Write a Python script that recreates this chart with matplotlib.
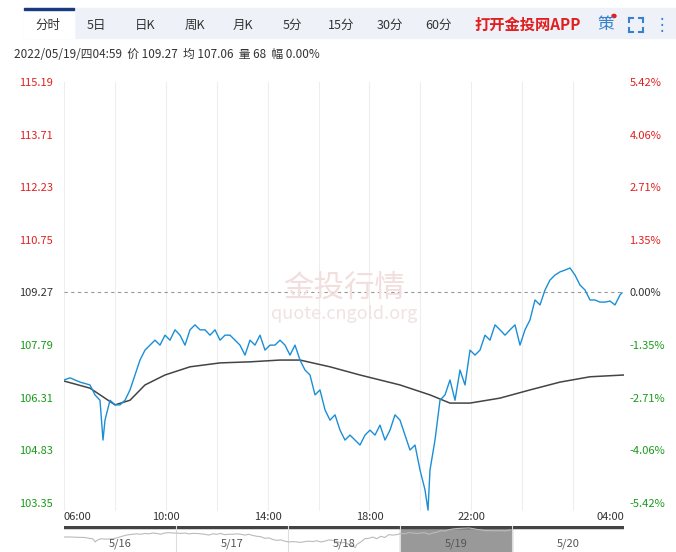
import matplotlib
matplotlib.use("Agg")
import matplotlib.pyplot as plt
from matplotlib.patches import Rectangle
from matplotlib.lines import Line2D

plt.rcParams['font.family'] = ['Noto Sans CJK SC', 'DejaVu Sans']

t_px = [64,70,80,90,95,100,103,105,110,115,120,125,130,135,140,145,150,155,160,165,170,175,180,185,190,195,200,205,210,215,220,225,230,235,240,245,250,255,260,265,270,275,280,285,290,295,300,305,310,315,320,325,330,335,340,345,350,355,360,365,370,375,380,385,390,395,400,405,410,415,420,425,428,430,435,440,445,450,455,460,465,470,475,480,485,490,495,500,505,510,515,520,525,530,535,540,545,550,555,560,565,570,575,580,585,590,595,600,605,610,615,620,622]
price = [106.81,106.87,106.75,106.67,106.39,106.24,105.12,105.68,106.24,106.11,106.11,106.24,106.53,106.95,107.37,107.65,107.79,107.93,107.79,108.07,107.93,108.22,108.07,107.79,108.22,108.36,108.22,108.22,108.07,108.22,107.93,108.07,108.07,107.93,107.79,107.51,107.93,107.79,108.07,107.65,107.79,107.79,107.93,107.79,107.51,107.79,107.37,107.09,106.95,106.39,106.53,105.97,105.68,105.83,105.40,105.12,105.26,105.12,104.98,105.26,105.40,105.26,105.54,105.12,105.40,105.83,105.68,105.26,104.84,104.98,104.28,103.72,103.15,104.28,105.12,106.24,106.39,106.81,106.24,107.09,106.67,107.65,107.51,107.65,108.07,107.93,108.36,108.22,108.07,108.22,108.36,107.79,108.22,108.50,109.06,108.92,109.34,109.62,109.76,109.85,109.90,109.96,109.76,109.48,109.34,109.06,109.06,109.00,109.00,109.03,108.92,109.20,109.26]
avg_px = [64,90,115,130,145,165,190,220,250,280,300,330,360,400,430,450,470,500,530,560,590,624]
avg = [106.78,106.58,106.11,106.24,106.67,106.95,107.18,107.29,107.32,107.37,107.37,107.18,106.95,106.67,106.39,106.16,106.16,106.30,106.53,106.75,106.90,106.95]

t = [(p-64)*1320/560 for p in t_px]
ta = [(p-64)*1320/560 for p in avg_px]

left_ticks = [115.19,113.71,112.23,110.75,109.27,107.79,106.31,104.83,103.35]
right_labels = ['5.42%','4.06%','2.71%','1.35%','0.00%','-1.35%','-2.71%','-4.06%','-5.42%']
xt_labels = ['06:00','10:00','14:00','18:00','22:00','04:00']
xt_pos = [0,240,480,720,960,1320]
nav_days = ['5/16','5/17','5/18','5/19','5/20']

W,H = 676,552
fig = plt.figure(figsize=(6.76,5.52), dpi=100)
ax = fig.add_axes([64/W, 1-511/H, 560/W, 429/H])
ylo = 103.35 - 8*(115.19-103.35)/421
ax.set_xlim(0,1320); ax.set_ylim(ylo,115.19)
for v in range(0,1321,120):
    ax.axvline(v, color='#eeeeee', lw=0.8, zorder=0)
ax.axhline(109.27, color='#999999', lw=0.8, ls=(0,(3,3)))
ax.text(0.5,0.52,'金投行情', transform=ax.transAxes, fontsize=22, color='#f3dede', ha='center', va='center')
ax.text(0.5,0.46,'quote.cngold.org', transform=ax.transAxes, fontsize=13, color='#f0e2e2', ha='center', va='center')
ax.plot(ta, avg, color='#444444', lw=1.1)
ax.plot(t, price, color='#1a8fd6', lw=1.0)
for s in ax.spines.values(): s.set_visible(False)
ax.set_yticks(left_ticks)
ax.set_yticklabels([f'{v:.2f}' for v in left_ticks], fontsize=8)
cols = ['#e02020']*4+['#333333']+['#1a9a1a']*4
for lab,c in zip(ax.get_yticklabels(), cols): lab.set_color(c)
ax.tick_params(axis='y', length=0, pad=8)
ax2 = ax.twinx(); ax2.set_ylim(ax.get_ylim()); ax2.set_yticks(left_ticks)
ax2.set_yticklabels(right_labels, fontsize=8)
for lab,c in zip(ax2.get_yticklabels(), cols): lab.set_color(c)
ax2.tick_params(axis='y', length=0, pad=4)
for s in ax2.spines.values(): s.set_visible(False)
ax.set_xticks(xt_pos); ax.set_xticklabels(xt_labels, fontsize=8, color='#333333')
ax.tick_params(axis='x', length=0, pad=1)
for lab,ha in zip(ax.get_xticklabels(), ['left','center','center','center','center','right']):
    lab.set_ha(ha)

nav = fig.add_axes([64/W, 0, 560/W, 26/H])
nav.set_xlim(0,5); nav.set_ylim(0,1)
nav.add_patch(Rectangle((3.0,0),1.0,0.95,color='#999999'))
nav.axhline(0.97, color='#444444', lw=2.5)
for i in range(1,5): nav.axvline(i, color='#dddddd', lw=0.8)
for i,d in enumerate(nav_days): nav.text(i+0.5,0.3,d,ha='center',va='center',fontsize=8,color='#555555')
nav.plot([x/1320*4 for x in t], [0.15+(p-103)/9 for p in price], color='#bbbbbb', lw=0.8)
nav.axis('off')

fig.patches.append(Rectangle((24/W,1-38/H),652/W,30/H,transform=fig.transFigure,color='#eef2f8',zorder=0))
fig.patches.append(Rectangle((24/W,1-38/H),50/W,30/H,transform=fig.transFigure,color='white',zorder=0))
fig.patches.append(Rectangle((24/W,1-10/H),50/W,2/H,transform=fig.transFigure,color='#1a3a80',zorder=0))
tabs = [('分时',48),('5日',96),('日K',145),('周K',195),('月K',243),('5分',292),('15分',341),('30分',390),('60分',438)]
for s,x in tabs:
    fig.text(x/W,1-25/H,s,ha='center',va='center',fontsize=9,color='#333333')
fig.text(528/W,1-25/H,'打开金投网APP',ha='center',va='center',fontsize=11,color='#e02020',weight='bold')
fig.text(606/W,1-25/H,'策',ha='center',va='center',fontsize=12,color='#3a80d0')
fig.patches.append(matplotlib.patches.Circle((614/W,1-16/H),2/W,transform=fig.transFigure,color='#e02020'))
cx,cy,s,a = 636,25,7,4
for dx in (-1,1):
    for dy in (-1,1):
        x0,y0 = cx+dx*s, cy+dy*s
        fig.lines.append(Line2D([x0/W,(x0-dx*a)/W],[1-y0/H,1-y0/H],transform=fig.transFigure,color='#3a80d0',lw=1.5))
        fig.lines.append(Line2D([x0/W,x0/W],[1-y0/H,1-(y0-dy*a)/H],transform=fig.transFigure,color='#3a80d0',lw=1.5))
fig.text(662/W,1-25/H,'⋮',ha='center',va='center',fontsize=12,color='#3a80d0',family='DejaVu Sans')
fig.text(14/W,1-55/H,'2022/05/19/四04:59  价 109.27  均 107.06  量 68  幅 0.00%',ha='left',va='center',fontsize=8.5,color='#333333')
fig.savefig('out.png', dpi=100)
